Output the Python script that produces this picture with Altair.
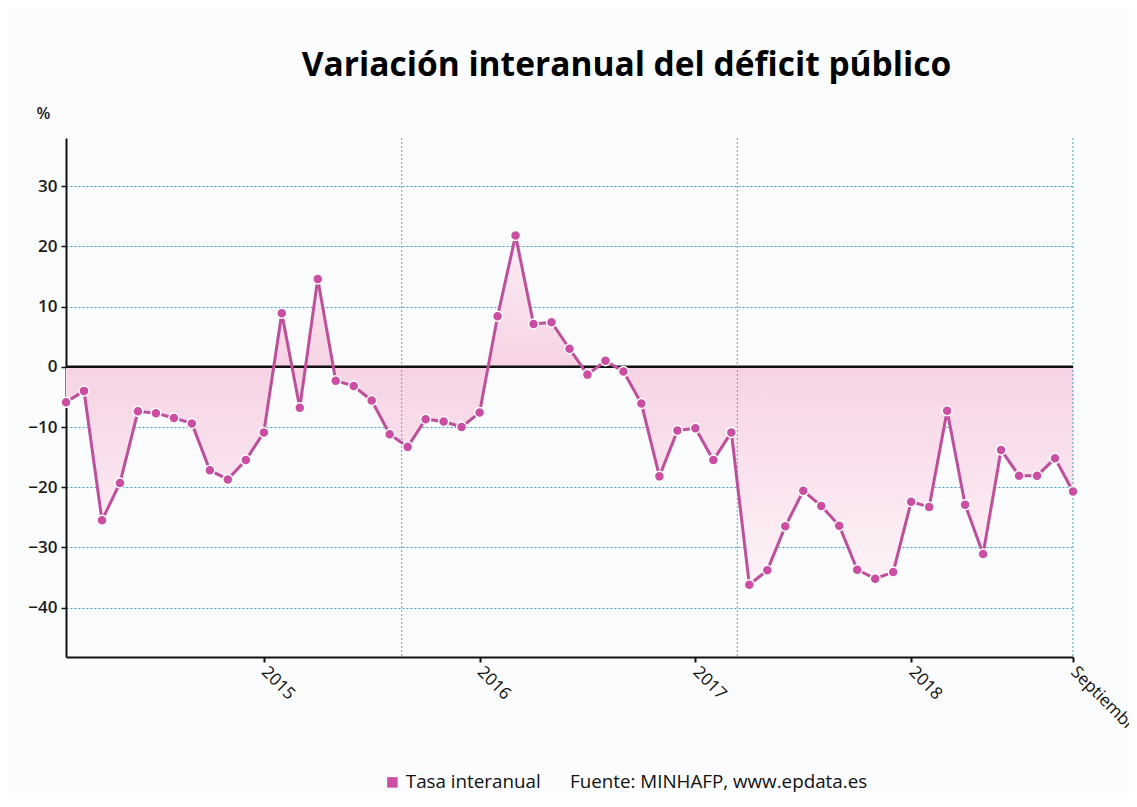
import altair as alt
import pandas as pd

# Monthly year-on-year change of the public deficit (%), 57 observations
valores = [-5.9, -4.0, -25.5, -19.3, -7.4, -7.7, -8.5, -9.4, -17.2, -18.7, -15.5, -10.9,
           8.9, -6.8, 14.6, -2.3, -3.2, -5.6, -11.2, -13.3, -8.7, -9.1, -10.0, -7.6,
           8.4, 21.8, 7.1, 7.4, 3.0, -1.3, 1.0, -0.8, -6.1, -18.2, -10.6, -10.2, -15.5, -10.9,
           -36.2, -33.8, -26.5, -20.6, -23.1, -26.4, -33.7, -35.2, -34.1, -22.4, -23.3,
           -7.3, -22.9, -31.1, -13.8, -18.1, -18.1, -15.2, -20.7]
indice = list(range(len(valores)))

tick_idx = [11, 23, 35, 47, 56]
tick_labels = ["2015", "2016", "2017", "2018", "Septiembre"]

grid_mid = [18.667, 37.333]
grid_end = [56]

y_ticks = [-40, -30, -20, -10, 0, 10, 20, 30]

serie = "Tasa interanual"
fuente = "Fuente: MINHAFP, www.epdata.es"

df = pd.DataFrame({"i": indice, "v": valores, "serie": [serie] * len(valores)})
df_gmid = pd.DataFrame({"i": grid_mid})
df_gend = pd.DataFrame({"i": grid_end})
df_zero = pd.DataFrame({"v": [0]})

FONT = "Open Sans"
LINE = "#bf4f9b"
POINT = "#cc4ea3"

label_map = "{" + ",".join(f"'{k}':'{v}'" for k, v in zip(tick_idx, tick_labels)) + "}"

xscale = alt.Scale(domain=[0, 56], nice=False, zero=False)
yscale = alt.Scale(domain=[-48.2, 38], nice=False, zero=False)

x_axis = alt.Axis(values=tick_idx, labelExpr=f"{label_map}[datum.value]", grid=False,
                  labelAngle=45, labelAlign="left", labelBaseline="middle",
                  labelFont=FONT, labelFontSize=17, labelFontWeight=500, labelColor="#111",
                  labelPadding=7,
                  domainColor="#111", domainWidth=2, tickColor="#111", tickSize=5, tickWidth=2,
                  title=None, labelOverlap=False, labelBound=False, labelFlush=False)
y_axis = alt.Axis(values=y_ticks, grid=True, gridColor="#3f9cc9", gridDash=[2, 2], gridWidth=1,
                  labelFont=FONT, labelFontSize=17, labelFontWeight=600, labelColor="#1a1a1a",
                  domainColor="#111", domainWidth=2, tickColor="#111", tickSize=5, tickWidth=1.5,
                  labelPadding=4, title="%", titleAngle=0, titleX=-23, titleY=-25,
                  titleAlign="center", titleBaseline="middle", titleFont=FONT,
                  titleFontSize=16, titleFontWeight=600, titleColor="#1a1a1a")

X = alt.X("i:Q", scale=xscale, axis=x_axis)
Y = alt.Y("v:Q", scale=yscale, axis=y_axis)

base = alt.Chart(df)

area = base.mark_area(
    fill=alt.Gradient(gradient="linear", x1=0, y1=0, x2=0, y2=1,
                      stops=[alt.GradientStop(color="#fcedf4", offset=0),
                             alt.GradientStop(color="#f6d3e4", offset=0.376),
                             alt.GradientStop(color="#fdf3f8", offset=1)]),
    interpolate="linear"
).encode(x=X, y=Y, y2=alt.datum(0))

gmid = alt.Chart(df_gmid).mark_rule(color="#8598a8", strokeDash=[2, 2], strokeWidth=1).encode(x=X)
gend = alt.Chart(df_gend).mark_rule(color="#3f9cc9", strokeDash=[2, 2], strokeWidth=1).encode(x=X)
zero = alt.Chart(df_zero).mark_rule(color="#111", strokeWidth=2.5).encode(y=Y)

line = base.mark_line(color=LINE, strokeWidth=3).encode(x=X, y=Y)

points = base.mark_point(filled=True, size=100, stroke="white", strokeWidth=1.5, opacity=1).encode(
    x=X, y=Y,
    fill=alt.Fill("serie:N", scale=alt.Scale(range=[POINT]),
                  legend=alt.Legend(orient="none", legendX=317, legendY=635, title=None,
                                    symbolType="square", symbolSize=110, symbolStrokeWidth=0,
                                    labelFont=FONT, labelFontSize=18.8, labelColor="#111",
                                    labelLimit=700,
                                    labelExpr="datum.label + '\u00a0\u00a0\u00a0\u00a0\u00a0 " + fuente + "'")),
)

chart = alt.layer(area, gmid, gend, zero, line, points).properties(
    width=1007, height=519,
    autosize=alt.AutoSizeParams(type="none"),
    padding={"left": 58, "top": 130, "right": 56, "bottom": 136},
    background="#fbfcfe",
    title=alt.TitleParams("Variación interanual del déficit público", font=FONT,
                          fontSize=33.5, fontWeight="bold", color="#000", anchor="middle",
                          dx=57, offset=22),
).configure_view(stroke=None)

chart.save("out.html", embed_options={"renderer": "svg", "actions": False})
